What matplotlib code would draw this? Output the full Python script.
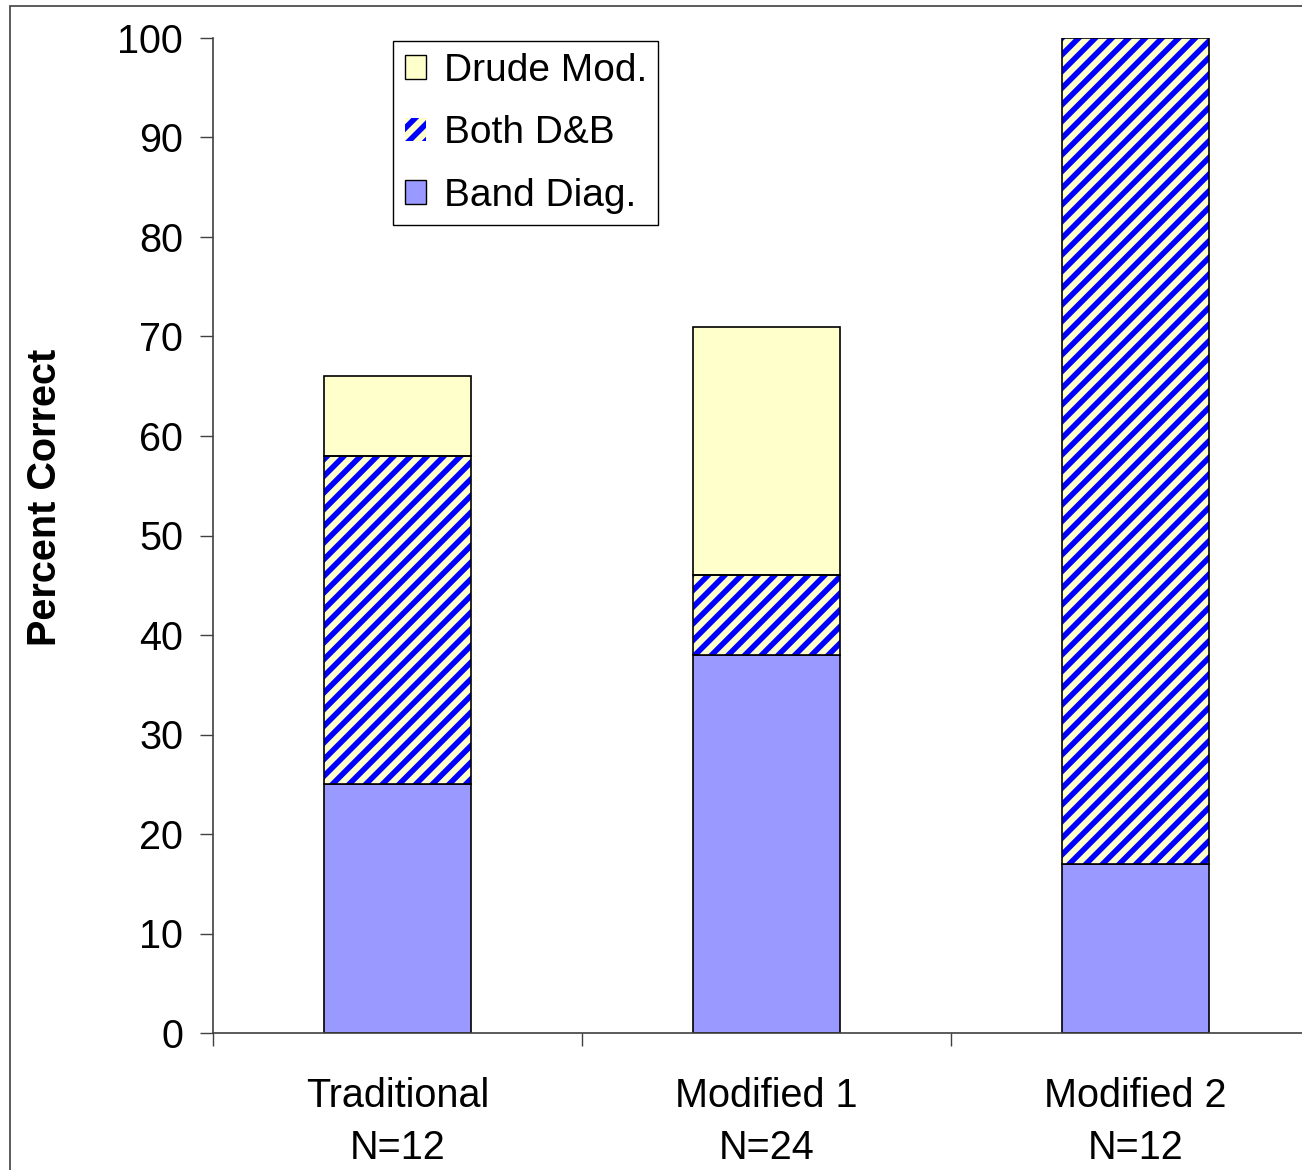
import matplotlib.pyplot as plt
import numpy as np
from matplotlib.patches import Patch, Rectangle

plt.rcParams['font.family'] = ['Liberation Sans', 'DejaVu Sans']
plt.rcParams['hatch.linewidth'] = 4.0

groups = ["Traditional\nN=12", "Modified 1\nN=24", "Modified 2\nN=12"]
band_diag = [25, 38, 17]
both_db = [33, 8, 83]
drude_mod = [8, 25, 0]

yellow = "#FFFFCC"
blue = "#0000FF"
lilac = "#9999FF"
fs = 28.5

fig = plt.figure(figsize=(13.02, 11.7), dpi=100)
ax = fig.add_axes([213 / 1302, 1 - 1033 / 1170, 1107 / 1302, 995 / 1170])

x = np.arange(len(groups))
w = 0.4
band = np.array(band_diag)
both = np.array(both_db)
drude = np.array(drude_mod)

ax.bar(x, band, w, color=lilac, edgecolor="black", linewidth=1.2, zorder=2)
ax.bar(x, both, w, bottom=band, color=yellow, edgecolor=blue, hatch="//",
       linewidth=0, zorder=2)
ax.bar(x, both, w, bottom=band, fill=False, edgecolor="black", linewidth=1.2, zorder=3)
keep = drude > 0
ax.bar(x[keep], drude[keep], w, bottom=(band + both)[keep], color=yellow,
       edgecolor="black", linewidth=1.2, zorder=2)

ax.set_xlim(-0.5, 2.5)
ax.set_ylim(0, 100)
ax.set_yticks(np.arange(0, 101, 10))
ax.set_xticks([-0.5, 0.5, 1.5, 2.5])
ax.set_xticklabels([])
ax.set_xticks(x, minor=True)
ax.set_xticklabels(groups, minor=True, fontsize=fs, linespacing=1.45)
ax.tick_params(axis="x", which="minor", length=0, pad=32)
ax.tick_params(axis="x", which="major", direction="out", length=9.5, width=1, color="#404040")
ax.tick_params(axis="y", direction="out", length=9.5, width=1, color="#404040",
               labelsize=fs, pad=12)
for s in ["top", "right"]:
    ax.spines[s].set_visible(False)
for s in ["left", "bottom"]:
    ax.spines[s].set_color("#404040")
    ax.spines[s].set_linewidth(1.2)

fig.text(45 / 1302, 1 - 497 / 1170, "Percent Correct", rotation=90, fontsize=fs,
         fontweight="bold", ha="center", va="center")

handles = [
    Patch(facecolor=yellow, edgecolor="black", linewidth=1),
    Patch(facecolor=yellow, edgecolor=blue, hatch="//", linewidth=0),
    Patch(facecolor=lilac, edgecolor="black", linewidth=1),
]
labels = ["Drude Mod.", "Both D&B", "Band Diag."]
leg = fig.legend(handles, labels, loc="upper left",
                 bbox_to_anchor=(393 / 1302, 1 - 41 / 1170), fontsize=28,
                 frameon=True, fancybox=False, framealpha=1, edgecolor="black",
                 handlelength=0.55, handleheight=0.55, handletextpad=0.45,
                 labelspacing=0.68, borderpad=0.3, borderaxespad=0)
leg.get_frame().set_linewidth(1)

fig.patches.append(Rectangle((10 / 1302, -0.1), 1.2, 1 - 6 / 1170 + 0.1,
                             transform=fig.transFigure, fill=False,
                             edgecolor="#404040", linewidth=1.2))

fig.savefig("out.png", dpi=100)
